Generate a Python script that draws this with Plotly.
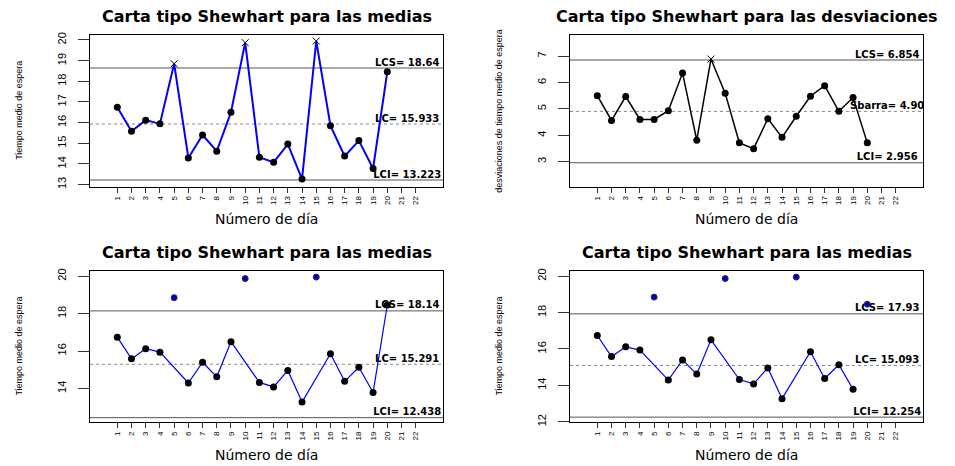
import plotly.graph_objects as go

# ---------------- data ----------------
dias = list(range(1, 21))
ticks_dias = list(range(1, 23))
medias = [16.74, 15.58, 16.12, 15.94, 18.85, 14.29, 15.40, 14.62, 16.50, 19.87,
          14.32, 14.08, 14.96, 13.27, 19.95, 15.85, 14.38, 15.13, 13.78, 18.46]
desviaciones = [5.50, 4.56, 5.47, 4.60, 4.60, 4.93, 6.36, 3.81, 6.89, 5.59,
                3.71, 3.49, 4.63, 3.92, 4.72, 5.48, 5.88, 4.91, 5.43, 3.71]

titulos = ["Carta tipo Shewhart para las medias",
           "Carta tipo Shewhart para las desviaciones",
           "Carta tipo Shewhart para las medias",
           "Carta tipo Shewhart para las medias"]
ytitulos = ["Tiempo medio de espera",
            "desviaciones de tiempo medio de espera",
            "Tiempo medio de espera",
            "Tiempo medio de espera"]
xtitulo = "Número de día"

lcs = [18.643, 6.854, 18.144, 17.93]
lc = [15.933, 4.905, 15.291, 15.093]
lci = [13.223, 2.956, 12.438, 12.254]
etq_lcs = ["LCS= 18.64", "LCS= 6.854", "LCS= 18.14", "LCS= 17.93"]
etq_lc = ["LC= 15.933", "Sbarra= 4.90", "LC= 15.291", "LC= 15.093"]
etq_lci = ["LCI= 13.223", "LCI= 2.956", "LCI= 12.438", "LCI= 12.254"]

fuera = [[5, 10, 15], [9], [5, 10, 15], [5, 10, 15, 20]]

# ---------------- layout geometry ----------------
W, H = 955, 466
boxes = [(90, 443, 32.3, 186.7), (570, 923, 32.3, 186.7),
         (90, 443, 272, 425.7), (570, 923, 272, 425.7)]
yranges = [(12.89, 20.25), (2.04, 7.81), (12.19, 20.28), (11.97, 20.29)]
ydticks = [1, 1, 2, 2]
xrange_ = (-0.92, 23.92)

fig = go.Figure()

def px(x):
    return x / W

def py(y):
    return 1 - y / H

series = [medias, desviaciones, medias, medias]
annotations = []
for i in range(4):
    xa = "x" if i == 0 else f"x{i+1}"
    ya = "y" if i == 0 else f"y{i+1}"
    xl, xr, yt, yb = boxes[i]
    vals = series[i]
    out = fuera[i]
    # reference lines
    for val, dash, col in [(lcs[i], "solid", "#555555"), (lc[i], "dot", "#888888"), (lci[i], "solid", "#555555")]:
        fig.add_trace(go.Scatter(x=[xrange_[0], xrange_[1]], y=[val, val], mode="lines",
                                 line=dict(color=col, width=1, dash=dash),
                                 xaxis=xa, yaxis=ya, showlegend=False, hoverinfo="skip"))
    # labels of the limits
    fig.add_trace(go.Scatter(x=[21.4, 21.4, 21.4], y=[lcs[i], lc[i], lci[i]],
                             text=[etq_lcs[i], etq_lc[i], etq_lci[i]], mode="text",
                             textposition="top center", cliponaxis=True,
                             textfont=dict(family="DejaVu Sans", size=10, color="black", weight="bold"),
                             xaxis=xa, yaxis=ya, showlegend=False, hoverinfo="skip"))
    dentro_x = [d for d in dias if d not in out]
    dentro_y = [v for d, v in zip(dias, vals) if d not in out]
    fuera_x = [d for d in dias if d in out]
    fuera_y = [v for d, v in zip(dias, vals) if d in out]
    if i in (0, 1):
        lcolor = "#0000ff" if i == 0 else "black"
        fig.add_trace(go.Scatter(x=dias, y=vals, mode="lines",
                                 line=dict(color=lcolor, width=2 if i == 0 else 1.5),
                                 xaxis=xa, yaxis=ya, showlegend=False))
        fig.add_trace(go.Scatter(x=dentro_x, y=dentro_y, mode="markers",
                                 marker=dict(color="black", size=7, symbol="circle"),
                                 xaxis=xa, yaxis=ya, showlegend=False))
        fig.add_trace(go.Scatter(x=fuera_x, y=fuera_y, mode="markers",
                                 marker=dict(color="black", size=7, symbol="x-thin-open",
                                             line=dict(color="black", width=1)),
                                 xaxis=xa, yaxis=ya, showlegend=False))
    else:
        fig.add_trace(go.Scatter(x=dentro_x, y=dentro_y, mode="lines",
                                 line=dict(color="#0000ff", width=1.2),
                                 xaxis=xa, yaxis=ya, showlegend=False))
        fig.add_trace(go.Scatter(x=dentro_x, y=dentro_y, mode="markers",
                                 marker=dict(color="black", size=7, symbol="circle"),
                                 xaxis=xa, yaxis=ya, showlegend=False))
        fig.add_trace(go.Scatter(x=fuera_x, y=fuera_y, mode="markers",
                                 marker=dict(color="#0000cc", size=6, symbol="circle",
                                             line=dict(color="#333333", width=1)),
                                 xaxis=xa, yaxis=ya, showlegend=False))

    common = dict(showline=True, linecolor="black", linewidth=1, mirror=True,
                  showgrid=False, zeroline=False, ticks="outside", tickcolor="#333333",
                  tickwidth=1)
    fig.update_layout(**{
        ("xaxis" if i == 0 else f"xaxis{i+1}"): dict(
            domain=[px(xl), px(xr)], anchor=ya, range=list(xrange_),
            tickmode="array", tickvals=ticks_dias, ticktext=[str(t) for t in ticks_dias],
            tickangle=-90, ticklen=5,
            tickfont=dict(family="Liberation Sans", size=8, color="black"), **common),
        ("yaxis" if i == 0 else f"yaxis{i+1}"): dict(
            domain=[py(yb), py(yt)], anchor=xa, range=list(yranges[i]),
            dtick=ydticks[i], tick0=0, tickangle=-90, ticklen=11, ticklabelstandoff=8,
            tickfont=dict(family="Liberation Sans", size=11, color="black"), **common),
    })
    cx = (xl + xr) / 2
    cy = (yt + yb) / 2
    title_y = 14 if i < 2 else 253.7
    annotations.append(dict(text=titulos[i], x=px(cx), y=py(title_y), xref="paper", yref="paper",
                            xanchor="center", yanchor="middle", showarrow=False,
                            font=dict(family="DejaVu Sans", size=16, color="black", weight="bold")))
    xt_y = 219 if i < 2 else 459
    annotations.append(dict(text=xtitulo, x=px(cx), y=py(xt_y), xref="paper", yref="paper",
                            xanchor="center", yanchor="middle", showarrow=False,
                            font=dict(family="DejaVu Sans", size=14, color="black")))
    yt_x = 19 if i in (0, 2) else 499
    annotations.append(dict(text=ytitulos[i], x=px(yt_x), y=py(cy), xref="paper", yref="paper",
                            xanchor="center", yanchor="middle", showarrow=False, textangle=-90,
                            font=dict(family="Liberation Sans", size=9, color="black")))

fig.update_layout(width=W, height=H, margin=dict(l=0, r=0, t=0, b=0),
                  paper_bgcolor="white", plot_bgcolor="white",
                  annotations=annotations, showlegend=False)

fig.write_html("out.html")
